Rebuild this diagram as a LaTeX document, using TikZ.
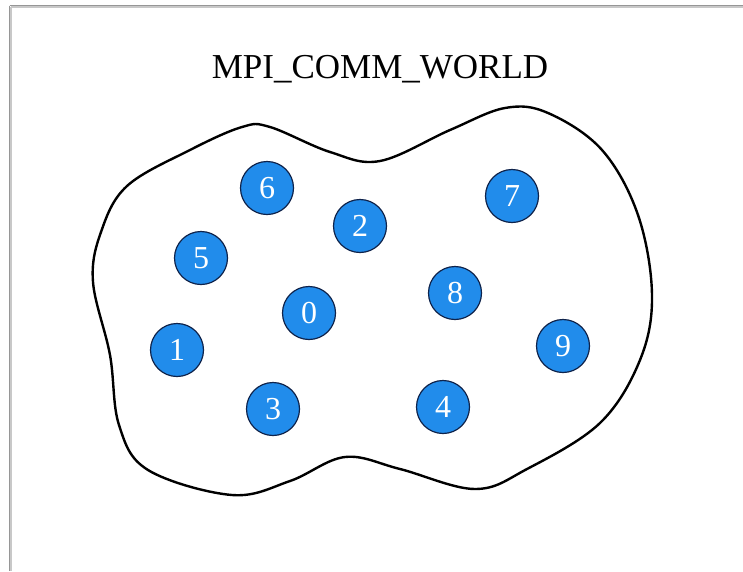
\documentclass[tikz,border=0pt]{standalone}
\usepackage{fontspec}
\setmainfont{Liberation Serif}
\definecolor{procfill}{RGB}{33,140,235}
\definecolor{procline}{RGB}{15,35,75}
\definecolor{frameA}{RGB}{150,150,150}
\definecolor{frameB}{RGB}{200,200,200}
\tikzset{
  proc/.style={circle, fill=procfill, draw=procline, line width=1.2pt,
    minimum size=53pt, inner sep=0pt, text=white,
    font=\fontsize{32}{36}\selectfont},
  blob/.style={line width=2.4pt, draw=black, line join=round},
}
\begin{document}
\begin{tikzpicture}[x=1pt, y=-1pt]
\useasboundingbox (0,0) rectangle (743,571);
\fill[white] (0,0) rectangle (743,571);
% frame (top and left only)
\draw[frameA, line width=1.4pt] (9.5,5.5) -- (743,5.5);
\draw[frameB, line width=1.4pt] (11,7) -- (743,7);
\draw[frameA, line width=1.4pt] (9.5,5.5) -- (9.5,571);
\draw[frameB, line width=1.4pt] (11,7) -- (11,571);
% title
\node[font=\fontsize{35}{40}\selectfont, anchor=base] (title) at (380,78) {MPI\_COMM\_WORLD};
% communicator outline
\draw[blob] plot[smooth cycle, tension=0.6] coordinates {
  (93,282) (110,355) (119,425) (148,470) (232,495) (290,481)
  (345,457) (400,469) (475,489) (527,469) (600,423) (640,360)
  (652,295) (638,215) (602,150) (548,113) (505,108) (450,130)
  (380,161) (330,152) (270,127) (242,127) (190,150) (127,186)
  (101,232)
};
% processes
\node[proc] (p0) at (309,313) {0};
\node[proc] (p1) at (177,350) {1};
\node[proc] (p2) at (360,226) {2};
\node[proc] (p3) at (273,409) {3};
\node[proc] (p4) at (443,407) {4};
\node[proc] (p5) at (201,258) {5};
\node[proc] (p6) at (267,188) {6};
\node[proc] (p7) at (512,196) {7};
\node[proc] (p8) at (455,293) {8};
\node[proc] (p9) at (563,346) {9};
\end{tikzpicture}
\end{document}
